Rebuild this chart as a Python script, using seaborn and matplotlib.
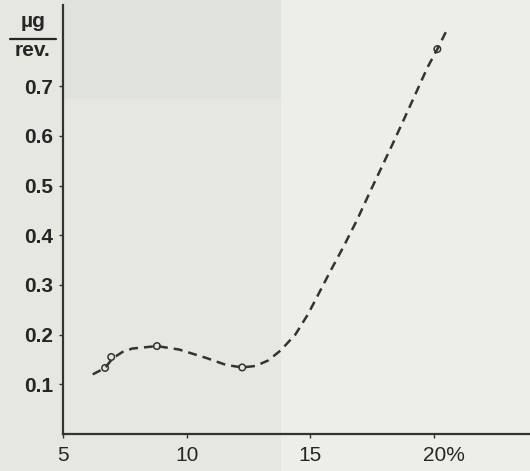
import matplotlib
matplotlib.use("Agg")
import matplotlib.pyplot as plt
import matplotlib.transforms as mtransforms
from matplotlib.patches import Rectangle
import seaborn as sns
import pandas as pd

# Measured points (open circles)
point_x = [6.7, 6.95, 8.8, 12.25, 20.15]
point_y = [0.133, 0.155, 0.177, 0.134, 0.775]

# Dashed fitted curve
curve_x = [6.2, 6.7, 7.0, 7.4, 7.8, 8.8, 9.7, 10.8, 11.6, 12.25, 12.8, 13.3, 13.8,
           14.4, 14.9, 15.3, 15.8, 16.35, 16.9, 17.4, 18.35, 19.15, 19.75, 20.15, 20.55]
curve_y = [0.120, 0.133, 0.152, 0.165, 0.172, 0.177, 0.170, 0.153, 0.139, 0.134, 0.137,
           0.148, 0.168, 0.200, 0.240, 0.278, 0.326, 0.377, 0.431, 0.485, 0.585, 0.672,
           0.738, 0.775, 0.815]

x_ticks = [5, 10, 15, 20]
x_ticklabels = ["5", "10", "15", "20%"]
y_ticks = [0.1, 0.2, 0.3, 0.4, 0.5, 0.6, 0.7]
y_ticklabels = ["0.1", "0.2", "0.3", "0.4", "0.5", "0.6", "0.7"]

sns.set_theme(style="ticks")
plt.rcParams["font.family"] = ["Liberation Sans", "DejaVu Sans"]

ink = "#333333"
txt = "#262626"
fig = plt.figure(figsize=(5.30, 4.71), dpi=100, facecolor="#e6e7e1")
# paper tones of the scan
fig.patches.append(Rectangle((0.53, 0.0), 0.47, 1.0, transform=fig.transFigure,
                             facecolor="#eeeee8", edgecolor="none", zorder=-10))
fig.patches.append(Rectangle((0.12, 0.79), 0.41, 0.21, transform=fig.transFigure,
                             facecolor="#e0e2dd", edgecolor="none", zorder=-9))

ax = fig.add_axes([0.119, 0.0786, 0.881, 0.91])
ax.set_facecolor("none")

curve = pd.DataFrame({"x": curve_x, "y": curve_y})
pts = pd.DataFrame({"x": point_x, "y": point_y})

sns.lineplot(data=curve, x="x", y="y", ax=ax, sort=False, color=ink,
             linewidth=1.8, dashes=False, linestyle=(0, (3.6, 2.4)))
sns.scatterplot(data=pts, x="x", y="y", ax=ax, s=22, facecolor="none",
                edgecolor=ink, linewidth=1.1, zorder=5)

ax.set_xlim(5, 23.9)
ax.set_ylim(0, 0.863)
ax.set_xticks(x_ticks)
ax.set_xticklabels(x_ticklabels)
ax.set_yticks(y_ticks)
ax.set_yticklabels(y_ticklabels)
ax.set_xlabel("")
ax.set_ylabel("")

for side in ["top", "right"]:
    ax.spines[side].set_visible(False)
for side in ["left", "bottom"]:
    ax.spines[side].set_color(ink)
    ax.spines[side].set_linewidth(1.6)

ax.tick_params(axis="both", colors=ink, labelcolor=txt, labelsize=15,
               length=3, width=1)
ax.tick_params(axis="y", pad=4)
ax.tick_params(axis="x", pad=6)
for lab in ax.get_yticklabels():
    lab.set_fontweight("bold")

# shift the "20%" label so that "20" sits under its tick
lbl = ax.get_xticklabels()[-1]
lbl.set_transform(lbl.get_transform() + mtransforms.ScaledTranslation(0.10, 0, fig.dpi_scale_trans))

# unit label µg / rev.
fig.text(0.062, 0.955, "µg", ha="center", va="center", fontsize=15,
         fontweight="bold", color=txt)
fig.add_artist(plt.Line2D([0.018, 0.106], [0.918, 0.918], color=txt,
                          linewidth=1.6, transform=fig.transFigure))
fig.text(0.062, 0.893, "rev.", ha="center", va="center", fontsize=15,
         fontweight="bold", color=txt)

fig.savefig("out.png", dpi=100, facecolor=fig.get_facecolor())
